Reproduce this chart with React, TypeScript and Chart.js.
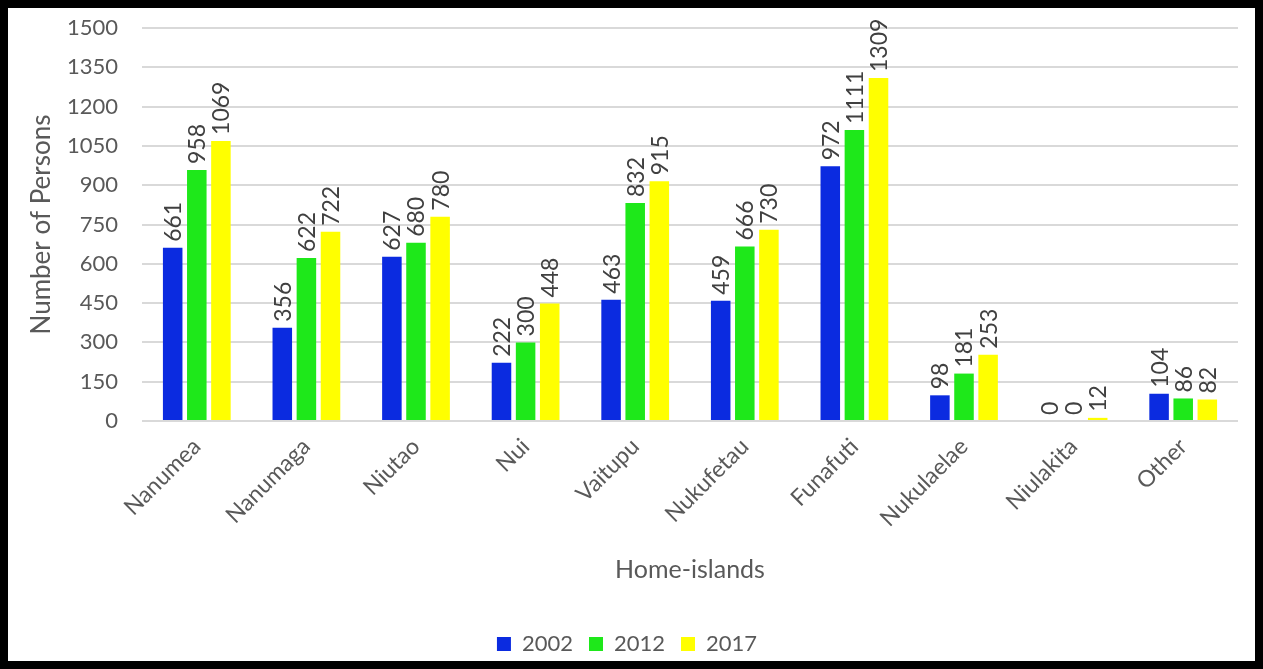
import React, { useEffect, useRef } from "react";
import { Chart, registerables } from "chart.js";

Chart.register(...registerables);

const categories = ["Nanumea", "Nanumaga", "Niutao", "Nui", "Vaitupu", "Nukufetau", "Funafuti", "Nukulaelae", "Niulakita", "Other"];
const series2002 = [661, 356, 627, 222, 463, 459, 972, 98, 0, 104];
const series2012 = [958, 622, 680, 300, 832, 666, 1111, 181, 0, 86];
const series2017 = [1069, 722, 780, 448, 915, 730, 1309, 253, 12, 82];
const seriesNames = ["2002", "2012", "2017"];
const seriesColors = ["#0b2be0", "#1ee81a", "#ffff00"];

const FONT = "Lato, 'Open Sans', sans-serif";
const TEXT = "#595959";

const valueLabels = {
  id: "valueLabels",
  afterDatasetsDraw(chart: any) {
    const ctx = chart.ctx;
    ctx.save();
    ctx.font = `23px ${FONT}`;
    ctx.fillStyle = "#404040";
    ctx.textAlign = "left";
    ctx.textBaseline = "middle";
    chart.data.datasets.forEach((ds: any, i: number) => {
      const meta = chart.getDatasetMeta(i);
      meta.data.forEach((el: any, j: number) => {
        ctx.save();
        ctx.translate(el.x, el.y - 6);
        ctx.rotate(-Math.PI / 2);
        ctx.fillText(String(ds.data[j]), 0, 1);
        ctx.restore();
      });
    });
    ctx.restore();
  },
};

export default function App() {
  const ref = useRef<HTMLCanvasElement>(null);
  useEffect(() => {
    document.body.style.margin = "0";
    const data = [series2002, series2012, series2017];
    const chart = new Chart(ref.current!, {
      type: "bar",
      data: {
        labels: categories,
        datasets: seriesNames.map((n, i) => ({
          label: n,
          data: data[i],
          backgroundColor: seriesColors[i],
          categoryPercentage: 0.66,
          barPercentage: 0.81,
        })),
      },
      options: {
        animation: false,
        responsive: false,
        maintainAspectRatio: false,
        layout: { padding: { left: 8, right: 17, top: 20, bottom: -4 } },
        plugins: {
          tooltip: { enabled: false },
          legend: {
            position: "bottom",
            labels: {
              boxWidth: 14,
              boxHeight: 14,
              padding: 16,
              color: TEXT,
              font: { family: FONT, size: 22 },
            },
          },
        },
        scales: {
          x: {
            grid: { display: false },
            border: { display: false },
            ticks: {
              color: TEXT,
              font: { family: FONT, size: 23 },
              maxRotation: 45,
              minRotation: 45,
              padding: 4,
            },
            title: {
              display: true,
              text: "Home-islands",
              color: TEXT,
              font: { family: FONT, size: 25 },
              padding: { top: 4, bottom: 32 },
            },
            afterFit: (s: any) => {
              s.height = 196;
            },
          },
          y: {
            min: 0,
            max: 1500,
            ticks: {
              stepSize: 150,
              color: TEXT,
              font: { family: FONT, size: 22 },
              padding: 24,
              callback: (v: any) => String(v),
            },
            grid: { color: "#d9d9d9", lineWidth: 2, drawTicks: false },
            border: { display: false },
            title: {
              display: true,
              text: "Number of Persons",
              color: TEXT,
              font: { family: FONT, size: 26 },
              padding: { top: 10, bottom: 8 },
            },
            afterFit: (s: any) => {
              s.width = 126;
              s.paddingTop = 0;
              s.paddingBottom = 0;
            },
          },
        },
      },
      plugins: [valueLabels],
    });
    return () => chart.destroy();
  }, []);
  return (
    <div
      style={{
        position: "absolute",
        left: 0,
        top: 0,
        width: 1263,
        height: 669,
        boxSizing: "border-box",
        border: "8px solid #000",
        background: "#fff",
      }}
    >
      <canvas ref={ref} width={1247} height={653} style={{ display: "block" }} />
    </div>
  );
}
